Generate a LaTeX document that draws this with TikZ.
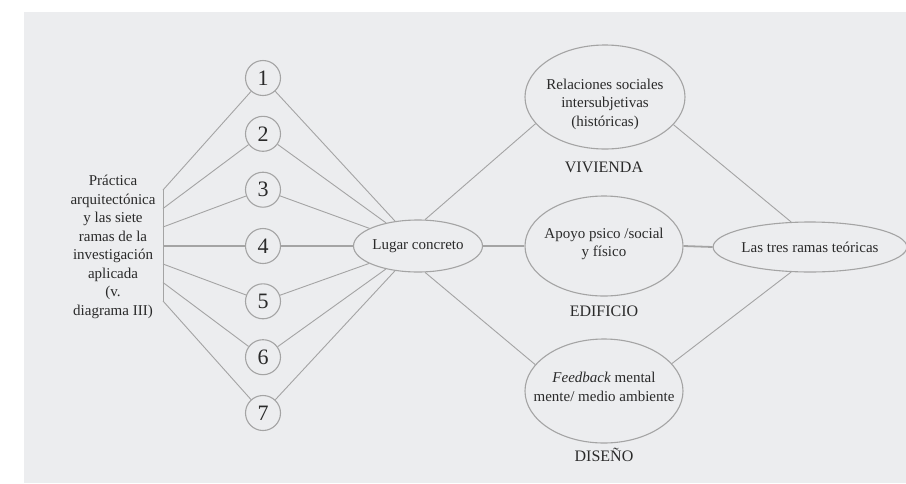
\documentclass[tikz,border=0pt]{standalone}
\usepackage{fontspec}
\setmainfont{Liberation Serif}
\usetikzlibrary{shapes.geometric}
\definecolor{bg}{HTML}{ECEDEF}
\definecolor{ln}{HTML}{A4A4A4}
\definecolor{tx}{HTML}{2A2A2A}
\begin{document}
\begin{tikzpicture}[x=1pt,y=-1pt,
  txt/.style={text=tx,font=\rmfamily\fontsize{15}{18.5}\selectfont,align=center,inner sep=0pt},
  caplbl/.style={text=tx,font=\rmfamily\fontsize{16}{19}\selectfont,inner sep=0pt},
  numc/.style={circle,draw=ln,line width=1.1pt,minimum size=35pt,inner sep=0pt,text=tx,font=\rmfamily\fontsize{22}{24}\selectfont},
  ell/.style={ellipse,draw=ln,line width=1.1pt,inner sep=0pt},
  conn/.style={draw=ln,line width=0.9pt},
  hconn/.style={draw=ln,line width=1.8pt}]
\useasboundingbox (0,0) rectangle (906,483);
\fill[white] (0,0) rectangle (906,483);
\fill[bg] (24,12) rectangle (906,483);

% left text
\node[txt] (P) at (113,247) {Práctica\\arquitectónica\\y las siete\\ramas de la\\investigación\\aplicada\\(v.\\diagrama III)};

% bracket points
\foreach \k/\y in {1/190,2/208.5,3/227,4/246,5/264,6/282.5,7/301}
  \coordinate (b\k) at (163,\y);

% numbered circles
\foreach \k/\y in {1/78,2/133.8,3/189.7,4/246,5/301.3,6/357.2,7/413}
  \node[numc] (c\k) at (263,\y) {\k};

% central ellipse
\node[ell,minimum width=120pt,minimum height=52pt,txt] (L) at (418,246) {Lugar concreto};

% right circles
\node[ell,minimum width=160pt,minimum height=104pt] (R) at (605,97) {};
\node[txt] (Rt) at (605,104) {Relaciones sociales\\intersubjetivas\\(históricas)};
\node[caplbl] (Rl) at (604,167) {VIVIENDA};

\node[ell,minimum width=158pt,minimum height=100pt] (A) at (604,246) {};
\node[txt] (At) at (604,244) {Apoyo psico /social\\y físico};
\node[caplbl] (Al) at (604,311) {EDIFICIO};

\node[ell,minimum width=158pt,minimum height=104pt] (F) at (604,391) {};
\node[txt] (Ft) at (604,387) {\textit{Feedback} mental\\mente/ medio ambiente};
\node[caplbl] (Fl) at (604,455) {DISEÑO};

\node[ell,minimum width=156pt,minimum height=50pt,txt] (T) at (810,247) {Las tres ramas teóricas};

% connectors
\draw[conn] (b1) -- (b7);
\foreach \k in {1,2,3,5,6,7}{
  \draw[conn] (b\k) -- (c\k);
  \draw[conn] (c\k) -- (L);
}
\draw[hconn] (b4) -- (c4);
\draw[hconn] (c4) -- (L);
\draw[conn] (L.75) -- (R.201);
\draw[conn] (R.-22) -- (T.127);
\draw[hconn] (L.east) -- (A.west);
\draw[hconn] (A.east) -- (T.west);
\draw[conn] (L.-75) -- (F.159);
\draw[conn] (F.22) -- (T.-127);
\end{tikzpicture}
\end{document}
